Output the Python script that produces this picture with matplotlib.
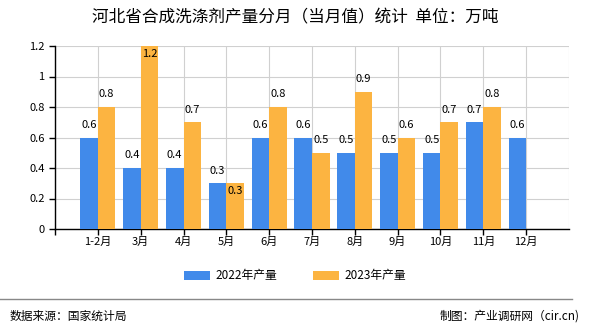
import matplotlib
matplotlib.use("Agg")
import matplotlib.pyplot as plt
import numpy as np

plt.rcParams["font.family"] = ["Noto Sans CJK SC", "DejaVu Sans"]

months = ["1-2月", "3月", "4月", "5月", "6月", "7月", "8月", "9月", "10月", "11月", "12月"]
v2022 = [0.6, 0.4, 0.4, 0.3, 0.6, 0.6, 0.5, 0.5, 0.5, 0.7, 0.6]
v2023 = [0.8, 1.2, 0.7, 0.3, 0.8, 0.5, 0.9, 0.6, 0.7, 0.8, None]
# labels the source chart put inside the top of the bar
inside_2023 = ["3月", "5月"]

blue = "#418AEA"
orange = "#FCB441"

fig = plt.figure(figsize=(5.9, 3.3), dpi=100)
ax = fig.add_axes([55 / 590, 1 - 229 / 330, 514 / 590, 183 / 330])

x = np.arange(1, len(months) + 1)
w = 0.41
ax.bar(x - w / 2, v2022, width=w, color=blue, label="2022年产量", zorder=3)
y23 = [np.nan if v is None else v for v in v2023]
ax.bar(x + w / 2, y23, width=w, color=orange, label="2023年产量", zorder=3)

for xi, v in zip(x, v2022):
    ax.text(xi - w / 2, v + 0.05, f"{v:.1f}", ha="center", va="bottom", fontsize=8, zorder=4)
for xi, m, v in zip(x, months, v2023):
    if v is None:
        continue
    if m in inside_2023:
        ax.text(xi + w / 2, v - 0.02, f"{v:.1f}", ha="center", va="top", fontsize=8, zorder=4)
    else:
        ax.text(xi + w / 2, v + 0.05, f"{v:.1f}", ha="center", va="bottom", fontsize=8, zorder=4)

ax.set_xlim(0, 12)
ax.set_ylim(0, 1.2)
ax.set_yticks([0, 0.2, 0.4, 0.6, 0.8, 1, 1.2])
ax.set_yticklabels(["0", "0.2", "0.4", "0.6", "0.8", "1", "1.2"])
ax.set_xticks(np.arange(0, 12))
ax.set_xticklabels([""] + months)
ax.grid(True, color="#d0d0d0", linewidth=0.8, zorder=0)
ax.axvline(12, color="#d0d0d0", linewidth=0.8, zorder=0)
ax.tick_params(labelsize=8, length=4, width=1, color="#000000")
ax.tick_params(axis="x", pad=2)
for s in ["top", "right"]:
    ax.spines[s].set_visible(False)
for s in ["left", "bottom"]:
    ax.spines[s].set_color("#000000")
    ax.spines[s].set_linewidth(1)

fig.text(0.5, 1 - 18 / 330, "河北省合成洗涤剂产量分月（当月值）统计  单位：万吨",
         ha="center", va="center", fontsize=12)

fig.legend(loc="center", bbox_to_anchor=(295 / 590, 1 - 276 / 330), ncol=2,
           frameon=False, fontsize=8.5, handlelength=2.2, handleheight=0.9,
           columnspacing=3, handletextpad=0.5)

fig.add_artist(plt.Line2D([0, 572 / 590], [1 - 299 / 330, 1 - 299 / 330],
                          color="#888888", linewidth=1))
fig.text(10 / 590, 1 - 316 / 330, "数据来源：国家统计局", ha="left", va="center", fontsize=8.5)
fig.text(580 / 590, 1 - 316 / 330, "制图：产业调研网（cir.cn)", ha="right", va="center", fontsize=8.5)

fig.savefig("out.png", dpi=100)
